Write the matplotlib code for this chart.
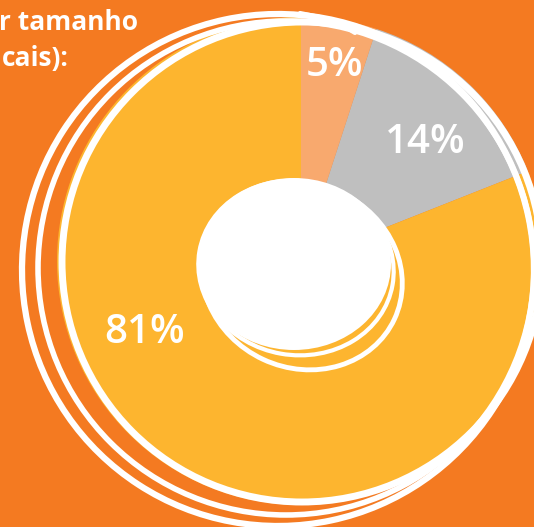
import matplotlib
matplotlib.use("Agg")
import matplotlib.pyplot as plt
from matplotlib.patches import Ellipse, Circle, Arc

# Data
labels = ["5%", "14%", "81%"]
values = [5, 14, 81]
colors = ["#F8A96E", "#BFBFBF", "#FDB52F"]
title_lines = ["r tamanho", "cais):"]

W, H = 534, 527
BG = "#F47A21"
fig = plt.figure(figsize=(W / 100, H / 100), dpi=100, facecolor=BG)
ax = fig.add_axes([0, 0, 1, 1])

def Y(py):
    return H - py

cx, cy, R = 301, Y(261), 244
wedges, _ = ax.pie(values, colors=colors, startangle=90, counterclock=False,
                   center=(cx, cy), radius=R, frame=True,
                   wedgeprops=dict(linewidth=0))
ax.set_xlim(0, W)
ax.set_ylim(0, H)
ax.set_aspect("equal")
ax.axis("off")

# label positions (pixel coords)
label_pos = [(335, 66), (425, 143), (145, 333)]
for lab, (px, py) in zip(labels, label_pos):
    ax.text(px, Y(py), lab, color="white", fontsize=29, fontweight="semibold",
            family=["Open Sans", "DejaVu Sans"], ha="center", va="center")

# white hole
ax.add_patch(Ellipse((294, Y(264)), 194, 172, angle=0, facecolor="white", edgecolor="none", zorder=3))
# inner hand strokes
ax.add_patch(Ellipse((302, Y(276)), 204, 184, angle=-25, facecolor="none", edgecolor="white", lw=3.5, zorder=4))
ax.add_patch(Ellipse((296, Y(268)), 196, 174, angle=-10, facecolor="none", edgecolor="white", lw=3, zorder=4))

# outer hand strokes
ax.add_patch(Ellipse((278, Y(270)), 512, 512, angle=12, facecolor="none", edgecolor="white", lw=4.5, zorder=4))
ax.add_patch(Ellipse((286, Y(268)), 496, 494, angle=0, facecolor="none", edgecolor="white", lw=4, zorder=4))
ax.add_patch(Circle((302, Y(262)), 240, facecolor="none", edgecolor="white", lw=5, zorder=4))
ax.plot([300, 320, 340, 355], [Y(13), Y(17), Y(24), Y(33)], color="white", lw=3, solid_capstyle="round", zorder=4)

# title fragment
ax.text(138, Y(30), title_lines[0], color="white", fontsize=19, fontweight="bold",
        family=["Open Sans", "DejaVu Sans"], ha="right", va="baseline")
ax.text(69, Y(66), title_lines[1], color="white", fontsize=19, fontweight="bold",
        family=["Open Sans", "DejaVu Sans"], ha="right", va="baseline")

fig.savefig("out.png", dpi=100, facecolor=BG)
